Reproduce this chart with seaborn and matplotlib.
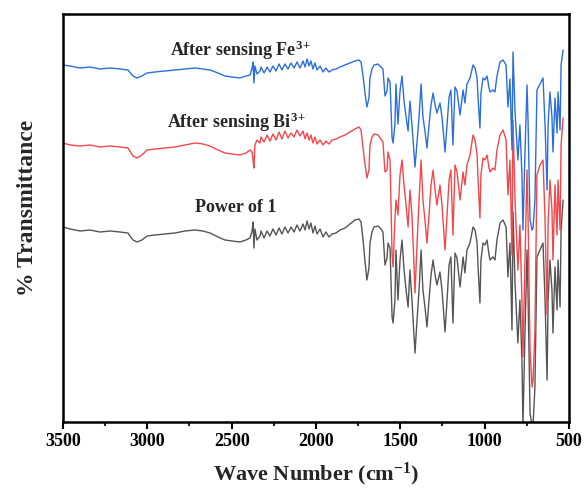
import numpy as np
import pandas as pd
import matplotlib
matplotlib.use("Agg")
import matplotlib.pyplot as plt
import seaborn as sns
from matplotlib.ticker import MultipleLocator

# ---------------- data ----------------
wavenumber = [
    3500, 3458, 3399, 3340, 3281, 3221, 3162, 3115, 3085, 3061,
    3032, 3002, 2955, 2895, 2836, 2777, 2717, 2670, 2628, 2581,
    2540, 2498, 2451, 2415, 2391, 2379, 2373, 2368, 2362, 2350,
    2332,
    2326, 2308, 2290, 2273, 2255, 2237, 2219, 2202, 2184, 2166,
    2148, 2130, 2113, 2095, 2077, 2065, 2053, 2041, 2030, 2018,
    2006, 1994, 1976, 1958, 1941, 1923, 1905, 1881, 1858, 1828,
    1798, 1769, 1745,
    1733, 1721, 1709, 1698, 1686, 1680, 1668, 1656, 1632, 1615,
    1603, 1591, 1579, 1573, 1561, 1549, 1543, 1532, 1526, 1514,
    1502, 1490, 1478, 1466, 1454, 1443, 1431, 1419, 1413, 1401,
    1389, 1377, 1366, 1354, 1342, 1330, 1318, 1306, 1294, 1283,
    1265, 1253, 1235, 1223, 1211, 1200, 1188, 1176, 1164, 1146,
    1128, 1117, 1105, 1087, 1069, 1057, 1045, 1039, 1028, 1022,
    1010, 998, 986, 974, 968, 951, 939, 927, 909, 891,
    873, 868, 862, 850, 838, 832, 820, 803, 791, 779,
    773, 761, 749, 743, 731, 719, 713, 702, 690, 672,
    654, 642, 630, 624, 613, 601, 595, 583, 571, 565,
    553, 547, 535,
]

power_of_1 = [
    273, 271, 269, 270, 268, 269, 268, 267, 260, 258,
    260, 264, 265, 266, 267, 269, 270, 269, 267, 263,
    260, 259, 258, 260, 262, 269, 278, 252, 271, 260,
    264,
    269, 262, 269, 264, 271, 265, 272, 266, 273, 267,
    273, 268, 275, 269, 276, 270, 279, 271, 277, 267,
    274, 266, 271, 263, 268, 263, 266, 267, 270, 272,
    276, 280, 281,
    278, 260, 238, 220, 232, 257, 268, 273, 274, 271,
    268, 235, 242, 257, 252, 183, 177, 200, 250, 200,
    240, 260, 230, 210, 193, 230, 200, 165, 147, 180,
    210, 250, 210, 193, 173, 200, 225, 240, 225, 215,
    228, 210, 168, 200, 235, 243, 177, 247, 242, 213,
    243, 227, 250, 257, 273, 270, 257, 233, 197, 240,
    257, 255, 260, 245, 240, 243, 240, 260, 277, 280,
    273, 250, 223, 257, 170, 288, 217, 157, 200, 140,
    75, 167, 250, 207, 87, 75, 75, 113, 243, 250,
    257, 200, 120, 200, 240, 210, 167, 233, 190, 240,
    193, 270, 300,
]

after_bi = [
    357, 355, 354, 355, 353, 354, 353, 352, 344, 342,
    345, 350, 351, 352, 353, 355, 357, 356, 354, 350,
    347, 346, 345, 347, 350, 348, 340, 332, 355, 360,
    357,
    363, 358, 365, 359, 366, 360, 368, 361, 369, 362,
    367, 363, 370, 364, 369, 361, 367, 360, 365, 357,
    363, 356, 360, 355, 359, 356, 360, 361, 363, 365,
    368, 371, 373,
    370, 352, 335, 322, 330, 355, 363, 366, 365, 361,
    358, 328, 330, 348, 340, 245, 233, 280, 300, 285,
    325, 340, 315, 295, 273, 310, 285, 235, 207, 255,
    300, 340, 300, 280, 257, 285, 315, 330, 310, 295,
    315, 295, 250, 285, 320, 330, 265, 335, 328, 300,
    328, 315, 335, 345, 365, 360, 345, 320, 282, 325,
    342, 340, 345, 332, 328, 332, 330, 350, 365, 370,
    360, 335, 305, 340, 245, 380, 300, 230, 275, 200,
    143, 240, 330, 285, 150, 113, 120, 170, 325, 335,
    340, 280, 185, 275, 320, 290, 240, 315, 265, 320,
    270, 355, 382,
]

after_fe = [
    435, 434, 432, 433, 431, 432, 431, 430, 424, 422,
    424, 427, 428, 429, 430, 431, 432, 431, 430, 427,
    424, 423, 422, 424, 425, 432, 438, 417, 434, 426,
    429,
    433, 427, 433, 428, 434, 429, 436, 430, 436, 431,
    437, 432, 438, 432, 439, 433, 441, 434, 439, 431,
    437, 430, 434, 428, 432, 428, 430, 431, 433, 435,
    437, 439, 440,
    438, 424, 406, 393, 402, 422, 431, 435, 436, 433,
    431, 404, 409, 422, 418, 362, 357, 376, 416, 376,
    409, 424, 399, 383, 369, 399, 375, 346, 333, 358,
    383, 416, 383, 369, 352, 375, 395, 407, 395, 387,
    397, 383, 348, 375, 403, 410, 355, 413, 409, 385,
    410, 397, 416, 422, 435, 432, 422, 402, 372, 407,
    422, 420, 424, 412, 408, 410, 408, 424, 438, 440,
    435, 415, 393, 421, 350, 448, 388, 340, 375, 325,
    270, 347, 415, 380, 280, 270, 272, 300, 410, 416,
    422, 375, 310, 375, 408, 383, 348, 402, 367, 408,
    370, 435, 450,
]

series_names = ["Power of 1", "After sensing Bi", "After sensing Fe"]
series_colors = ["#555555", "#f2474b", "#2b6fdc"]
x_ticks = [3500, 3000, 2500, 2000, 1500, 1000, 500]

# ---------------- build table ----------------
frames = []
for name, vals in zip(series_names, [power_of_1, after_bi, after_fe]):
    frames.append(pd.DataFrame({"wn": wavenumber, "T": vals, "sample": name}))
df = pd.concat(frames, ignore_index=True)

# ---------------- style ----------------
sns.set_theme(style="ticks")
plt.rcParams['font.family'] = ['Liberation Serif', 'DejaVu Serif']
plt.rcParams['mathtext.fontset'] = 'custom'
plt.rcParams['mathtext.rm'] = 'Liberation Serif'
plt.rcParams['mathtext.bf'] = 'Liberation Serif:bold'
plt.rcParams['mathtext.it'] = 'Liberation Serif:italic'

fig = plt.figure(figsize=(5.87, 4.95), dpi=100)
ax = fig.add_axes([63 / 587, 1 - 422 / 495, (569 - 63) / 587, (422 - 14) / 495])

sns.lineplot(data=df, x="wn", y="T", hue="sample", hue_order=series_names,
             palette=series_colors, sort=False, estimator=None, legend=False,
             linewidth=1.0, ax=ax)

ax.set_xlim(3500, 500)
ax.set_ylim(78, 486)
ax.set_yticks([])
ax.set_xticks(x_ticks)
ax.xaxis.set_minor_locator(MultipleLocator(250))
ax.tick_params(axis="x", which="major", direction="out", length=5, width=1.5,
               labelsize=13, pad=3, colors="black")
ax.tick_params(axis="x", which="minor", direction="out", length=3, width=1.5)
for lab in ax.get_xticklabels():
    lab.set_fontweight("bold")
for sp in ax.spines.values():
    sp.set_linewidth(1.8)
    sp.set_color("black")
    sp.set_visible(True)

ax.set_xlabel(r"Wave Number (cm$^{\mathbf{-1}}$)", fontsize=16, fontweight="bold", labelpad=8)
ax.set_ylabel("% Transmittance", fontsize=17, fontweight="bold")
ax.yaxis.set_label_coords(-0.05, (422 - 208) / 408)

ax.text(2866, 450, r"After sensing Fe$^{\mathbf{3}}$$^{\mathbf{+}}$", fontsize=13,
        fontweight="bold", ha="left", va="center")
ax.text(2883, 378, r"After sensing Bi$^{\mathbf{3}}$$^{\mathbf{+}}$", fontsize=13,
        fontweight="bold", ha="left", va="center")
ax.text(2717, 292, "Power of 1", fontsize=13, fontweight="bold", ha="left", va="center")

fig.savefig("out.png", dpi=100)
